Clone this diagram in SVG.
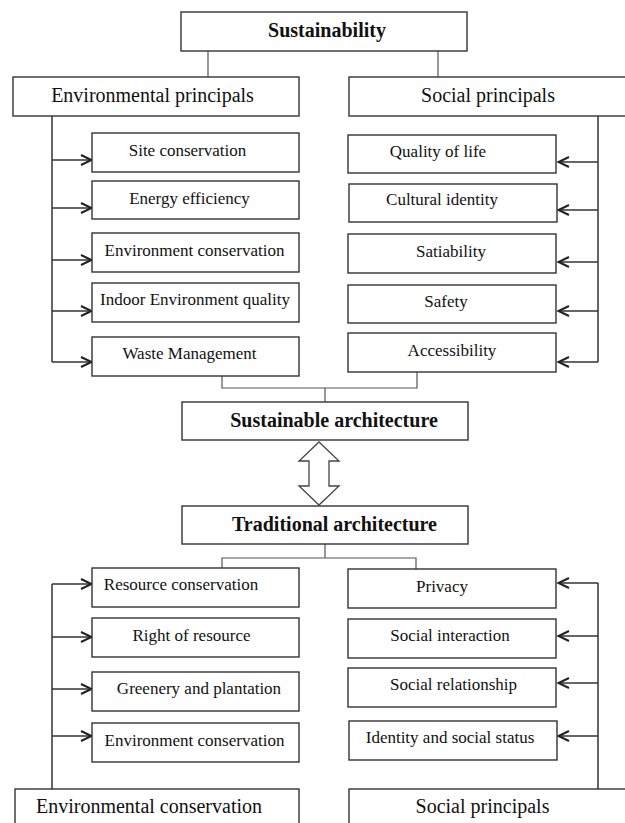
<svg xmlns="http://www.w3.org/2000/svg" width="625" height="823" viewBox="0 0 625 823">
<style>
.box{fill:#fff;stroke:#333;stroke-width:1.4}
.t{font-family:"Liberation Serif","Times New Roman",serif;fill:#111;text-anchor:middle}
.h{font-size:20px}
.b{font-size:20px;font-weight:bold}
.s{font-size:17px}
.c{fill:none;stroke:#555;stroke-width:1.2}
.a{fill:none;stroke:#333;stroke-width:1.5}
</style>
<defs>
<marker id="ah" markerWidth="14" markerHeight="14" refX="12" refY="6" orient="auto" markerUnits="userSpaceOnUse">
<path d="M1,1 L11.5,6 L1,11" fill="none" stroke="#222" stroke-width="2"/>
</marker>
</defs>
<rect width="625" height="823" fill="#fff"/>
<g id="connectors">
<path class="c" d="M208,51 V77 M438,51 V77"/>
<path class="c" d="M222,376 V388 H417 V372 M325,388 V402"/>
<path class="c" d="M325,544 V558 M222,568 V558 H416 V569"/>
<path class="a" d="M52,116 V362 M598,116 V362"/>
<path class="a" d="M52,584 V790 H15 M598,583 V791 H625"/>
<g marker-end="url(#ah)">
<line class="a" x1="52" y1="160" x2="92" y2="160"/>
<line class="a" x1="52" y1="208" x2="92" y2="208"/>
<line class="a" x1="52" y1="260" x2="92" y2="260"/>
<line class="a" x1="52" y1="311" x2="92" y2="311"/>
<line class="a" x1="52" y1="362" x2="92" y2="362"/>
<line class="a" x1="598" y1="162" x2="558" y2="162"/>
<line class="a" x1="598" y1="210" x2="558" y2="210"/>
<line class="a" x1="598" y1="262" x2="558" y2="262"/>
<line class="a" x1="598" y1="311" x2="558" y2="311"/>
<line class="a" x1="598" y1="362" x2="558" y2="362"/>
<line class="a" x1="52" y1="584" x2="92" y2="584"/>
<line class="a" x1="52" y1="637" x2="92" y2="637"/>
<line class="a" x1="52" y1="689" x2="92" y2="689"/>
<line class="a" x1="52" y1="736" x2="92" y2="736"/>
<line class="a" x1="598" y1="583" x2="558" y2="583"/>
<line class="a" x1="598" y1="636" x2="558" y2="636"/>
<line class="a" x1="598" y1="683" x2="558" y2="683"/>
<line class="a" x1="598" y1="736" x2="558" y2="736"/>
</g>
<polygon id="double-arrow" points="319,442 339,461 329,461 329,486 339,486 319,505 299,486 309,486 309,461 299,461" fill="#fff" stroke="#444" stroke-width="1.3"/>
</g>
<g id="sustainability"><rect class="box" x="181" y="12" width="286" height="39"/><text class="t b" x="327" y="37">Sustainability</text></g>
<g id="env-principals"><rect class="box" x="13" y="77" width="286" height="39"/><text class="t h" x="152.5" y="102">Environmental principals</text></g>
<g id="soc-principals"><rect class="box" x="349" y="77" width="290" height="39"/><text class="t h" x="488" y="102">Social principals</text></g>
<g id="site"><rect class="box" x="92" y="133" width="207" height="39"/><text class="t s" x="187.5" y="156">Site conservation</text></g>
<g id="energy"><rect class="box" x="92" y="181" width="207" height="38"/><text class="t s" x="189.5" y="204">Energy efficiency</text></g>
<g id="env-cons"><rect class="box" x="92" y="233" width="207" height="39"/><text class="t s" x="194.5" y="256">Environment conservation</text></g>
<g id="indoor"><rect class="box" x="92" y="283" width="207" height="39"/><text class="t s" x="195" y="305">Indoor Environment quality</text></g>
<g id="waste"><rect class="box" x="92" y="337" width="207" height="39"/><text class="t s" x="189.5" y="359">Waste Management</text></g>
<g id="quality"><rect class="box" x="348" y="135" width="208" height="38"/><text class="t s" x="438" y="157">Quality of life</text></g>
<g id="cultural"><rect class="box" x="349" y="184" width="208" height="38"/><text class="t s" x="442" y="205">Cultural identity</text></g>
<g id="satiability"><rect class="box" x="348" y="234" width="208" height="39"/><text class="t s" x="451" y="257">Satiability</text></g>
<g id="safety"><rect class="box" x="348" y="285" width="208" height="38"/><text class="t s" x="446" y="307">Safety</text></g>
<g id="accessibility"><rect class="box" x="348" y="333" width="208" height="39"/><text class="t s" x="452" y="356">Accessibility</text></g>
<g id="sustainable-arch"><rect class="box" x="182" y="402" width="286" height="38"/><text class="t b" x="334" y="427">Sustainable architecture</text></g>
<g id="traditional-arch"><rect class="box" x="182" y="506" width="286" height="38"/><text class="t b" x="334.5" y="531">Traditional architecture</text></g>
<g id="resource"><rect class="box" x="92" y="568" width="207" height="39"/><text class="t s" x="181" y="590">Resource conservation</text></g>
<g id="right-resource"><rect class="box" x="92" y="618" width="207" height="39"/><text class="t s" x="191.5" y="641">Right of resource</text></g>
<g id="greenery"><rect class="box" x="92" y="672" width="207" height="39"/><text class="t s" x="199" y="694">Greenery and plantation</text></g>
<g id="env-cons-2"><rect class="box" x="92" y="723" width="207" height="39"/><text class="t s" x="194.5" y="746">Environment conservation</text></g>
<g id="privacy"><rect class="box" x="348" y="569" width="208" height="39"/><text class="t s" x="442" y="592">Privacy</text></g>
<g id="interaction"><rect class="box" x="348" y="619" width="208" height="39"/><text class="t s" x="450" y="641">Social interaction</text></g>
<g id="relationship"><rect class="box" x="348" y="668" width="208" height="39"/><text class="t s" x="453.5" y="690">Social relationship</text></g>
<g id="identity"><rect class="box" x="349" y="721" width="208" height="39"/><text class="t s" x="450" y="743">Identity and social status</text></g>
<g id="env-conservation"><rect class="box" x="15" y="789" width="284" height="50"/><text class="t h" x="149" y="813">Environmental conservation</text></g>
<g id="soc-principals-2"><rect class="box" x="349" y="789" width="290" height="50"/><text class="t h" x="482.5" y="813">Social principals</text></g>
</svg>
